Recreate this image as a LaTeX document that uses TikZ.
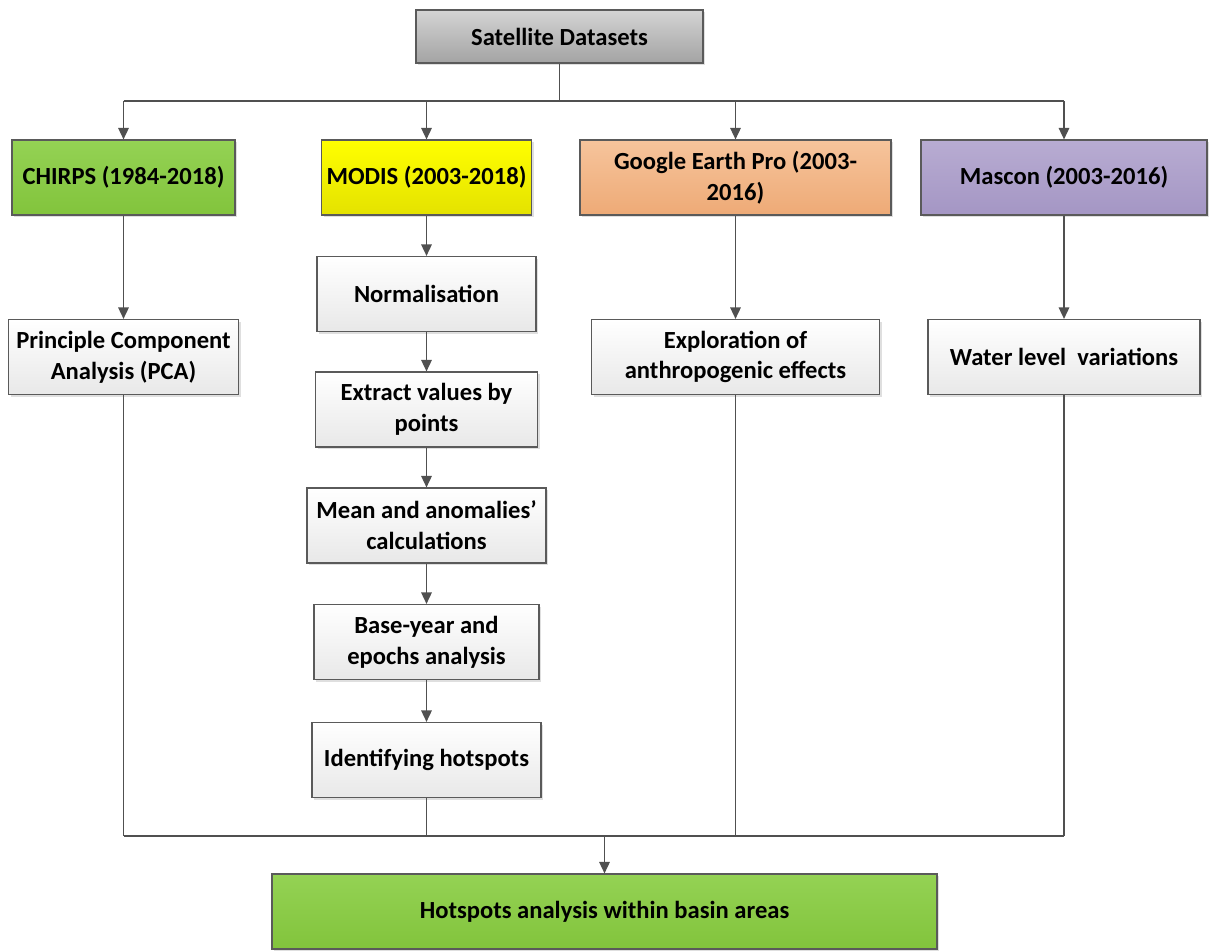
\documentclass[tikz,border=0pt]{standalone}
\usepackage{fontspec}
\setmainfont{Carlito}
\usetikzlibrary{arrows.meta,shadows}

\definecolor{lineclr}{HTML}{505050}
\definecolor{edgeclr}{HTML}{5A5A5A}

\begin{document}
\begin{tikzpicture}[x=0.02cm, y=-0.02cm,
  box/.style={draw=edgeclr, line width=0.7pt, align=center, inner sep=2pt,
    font=\fontsize{14}{17.5}\selectfont\bfseries, minimum height=1.5cm,
    top color=white, bottom color=black!9,
    drop shadow={opacity=0.25, shadow xshift=1.2pt, shadow yshift=-1.2pt}},
  greybox/.style={box, top color=black!17, bottom color=black!36},
  greenbox/.style={box, top color={rgb,255:red,148;green,210;blue,84}, bottom color={rgb,255:red,130;green,196;blue,60}},
  yellowbox/.style={box, top color=yellow, bottom color={rgb,255:red,228;green,226;blue,0}},
  orangebox/.style={box, top color={rgb,255:red,246;green,196;blue,156}, bottom color={rgb,255:red,238;green,170;blue,118}},
  purplebox/.style={box, top color={rgb,255:red,184;green,172;blue,210}, bottom color={rgb,255:red,164;green,150;blue,196}},
  link/.style={draw=lineclr, line width=0.75pt},
  arr/.style={link, -{Triangle[width=6pt,length=6.5pt]}}]

  \useasboundingbox (0,0) rectangle (1209,950);

  % sources
  \node[greybox, minimum width=5.74cm, minimum height=1.06cm] (sat) at (559.5,36.5) {Satellite Datasets};

  \node[greenbox,  minimum width=4.46cm] (chirps) at (123.5,177.5) {CHIRPS (1984-2018)};
  \node[yellowbox, minimum width=4.2cm]  (modis)  at (426.5,177.5) {MODIS (2003-2018)};
  \node[orangebox, minimum width=6.22cm] (gep)    at (735.5,177.5) {Google Earth Pro (2003-\\2016)};
  \node[purplebox, minimum width=5.72cm] (mascon) at (1064,177.5)  {Mascon (2003-2016)};

  % MODIS steps
  \node[box, minimum width=4.38cm] (norm)    at (426.5,294)   {Normalisation};
  \node[box, minimum width=4.44cm] (extract) at (426.5,409.5) {Extract values by\\points};
  \node[box, minimum width=4.78cm] (mean)    at (426.5,525.5) {Mean and anomalies'\\calculations};
  \node[box, minimum width=4.5cm]  (base)    at (426.5,642)   {Base-year and\\epochs analysis};
  \node[box, minimum width=4.58cm] (ident)   at (426.5,760)   {Identifying hotspots};

  % other steps
  \node[box, minimum width=4.6cm]  (pca)   at (123.5,357) {Principle Component\\Analysis (PCA)};
  \node[box, minimum width=5.76cm] (explo) at (735.5,357) {Exploration of\\anthropogenic effects};
  \node[box, minimum width=5.44cm] (water) at (1064,357)  {Water level\ \ variations};

  \node[greenbox, minimum width=13.3cm] (hot) at (604.5,911.5) {Hotspots analysis within basin areas};

  % top bus
  \coordinate (top) at (559.5,101);
  \draw[link] (sat) -- (top);
  \draw[link] (chirps.north |- top) -- (mascon.north |- top);
  \foreach \n in {chirps,modis,gep,mascon}
    \draw[arr] (\n.north |- top) -- (\n.north);

  % down the columns
  \draw[arr] (chirps) -- (pca);
  \draw[arr] (gep) -- (explo);
  \draw[arr] (mascon) -- (water);
  \foreach \a/\b in {modis/norm,norm/extract,extract/mean,mean/base,base/ident}
    \draw[arr] (\a) -- (\b);

  % bottom bus
  \coordinate (bot) at (604.5,836);
  \foreach \n in {pca,ident,explo,water}
    \draw[link] (\n.south) -- (\n.south |- bot);
  \draw[link] (pca.south |- bot) -- (water.south |- bot);
  \draw[arr] (bot) -- (hot.north);

\end{tikzpicture}
\end{document}
